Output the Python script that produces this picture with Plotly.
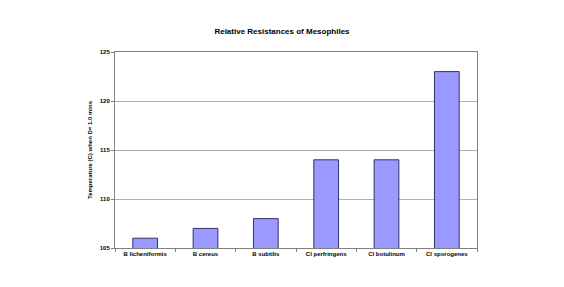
import plotly.graph_objects as go

categories = ["B licheniformis", "B cereus", "B subtilis", "Cl perfringens", "Cl botulinum", "Cl sporogenes"]
values = [106, 107, 108, 114, 114, 123]
y_ticks = [105, 110, 115, 120, 125]

fig = go.Figure(go.Bar(
    x=categories, y=values,
    marker=dict(color="#9999FF", line=dict(color="#333366", width=1)),
))
fig.update_layout(
    width=564, height=287,
    margin=dict(l=115, r=87, t=52, b=39),
    paper_bgcolor="white", plot_bgcolor="white",
    bargap=0.59,
    showlegend=False,
    title=dict(text="<b>Relative Resistances of Mesophiles</b>", x=0.5, xanchor="center",
               y=1 - 31/287, yanchor="middle",
               font=dict(family="Liberation Sans, Arial", size=8, color="black")),
    font=dict(family="Liberation Sans, Arial", size=6, color="black"),
)
fig.update_xaxes(
    showline=True, linecolor="#808080", linewidth=1, mirror=True,
    ticks="outside", tickson="boundaries", ticklen=3, tickcolor="#808080",
    tickfont=dict(size=6, family="Liberation Sans, Arial", color="black", weight="bold"),
    showgrid=False,
)
fig.update_yaxes(
    range=[105, 125], tickvals=y_ticks,
    showline=True, linecolor="#808080", linewidth=1, mirror=True,
    ticks="outside", ticklen=3, tickcolor="#808080",
    showgrid=True, gridcolor="#B0B0B0", gridwidth=1,
    tickfont=dict(size=6, family="Liberation Sans, Arial", color="black", weight="bold"),
    title=dict(text="<b>Temperature (C) when D= 1.0 mins</b>", standoff=6,
               font=dict(size=6, family="Liberation Sans, Arial", color="black")),
)
fig.write_html("out.html")
